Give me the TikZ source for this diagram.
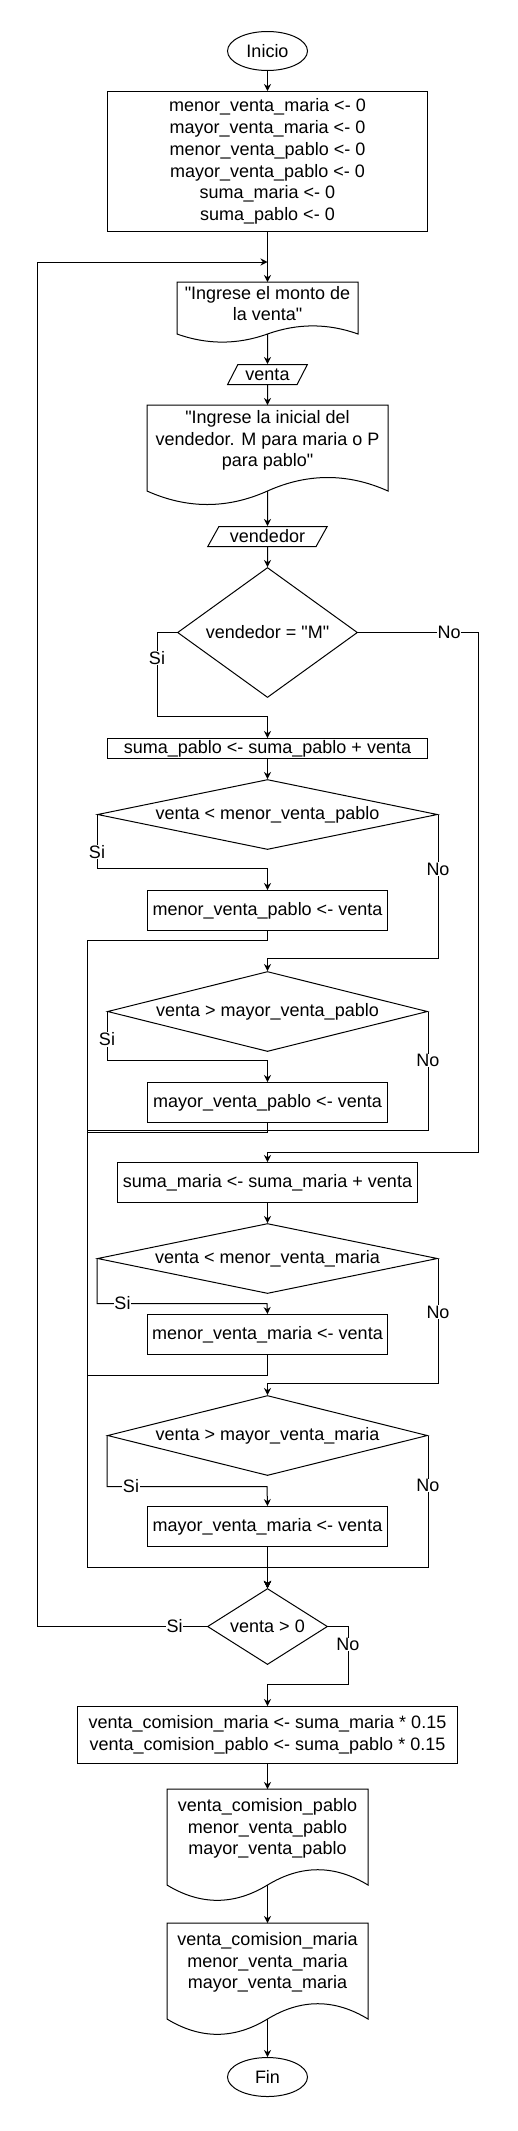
\documentclass[tikz,border=0pt]{standalone}
\usepackage{fontspec}
\setmainfont{Liberation Sans}
\usetikzlibrary{positioning, arrows.meta, shapes.geometric, calc}
\tikzstyle{startstop} = [ellipse, draw, minimum width=80pt, minimum height=39pt, inner sep=0pt]
\tikzstyle{process} = [rectangle, draw, minimum width=240pt, minimum height=40pt, inner sep=0pt, align=center]
\tikzstyle{io} = [trapezium, draw, trapezium left angle=57, trapezium right angle=123, trapezium stretches=true, minimum height=20pt, inner sep=0pt]
\tikzstyle{decision} = [diamond, draw, inner sep=0pt]
\tikzstyle{doc} = [rectangle, minimum width=200pt, inner sep=0pt, align=center]
\tikzstyle{arrow} = [->, >={Stealth[length=7pt, width=7pt]}]
\tikzstyle{lbl} = [fill=white, inner sep=0.5pt]
% outline of a document node with a wavy bottom (#2 = wave height)
\newcommand{\docwave}[2]{%
  \draw let \p1=(#1.south west), \p2=(#1.north east),
    \n1={(\x2-\x1)/6}, \n2={(\x1+\x2)/2}, \n3={\y1-#2/2}, \n4={0.6*#2} in
    (\x1,\y2) -- (\x2,\y2) -- (\x2,\n3*1pt)
    .. controls (\x2-\n1*1pt,\n3*1pt+\n4*1pt) and (\n2*1pt+\n1*1pt,\n3*1pt+\n4*1pt) .. (\n2*1pt,\n3*1pt)
    .. controls (\n2*1pt-\n1*1pt,\n3*1pt-\n4*1pt) and (\x1+\n1*1pt,\n3*1pt-\n4*1pt) .. (\x1,\n3*1pt) -- cycle
    (\n2*1pt,\n3*1pt) coordinate (#1-end);}
\newcommand{\qq}{\textquotedbl}
\begin{document}
\begin{tikzpicture}[line width=1pt, font=\fontsize{18pt}{21.7pt}\selectfont]
  \useasboundingbox (0,0) rectangle (517pt,-2131pt);

  % Start and initial values
  \node (inicio) [startstop] at (267.5pt,-51pt) {Inicio};
  \node (init) [process, minimum width=320pt, minimum height=140pt, below=20pt of inicio] {menor\_venta\_maria <- 0\\mayor\_venta\_maria <- 0\\menor\_venta\_pablo <- 0\\mayor\_venta\_pablo <- 0\\suma\_maria <- 0\\suma\_pablo <- 0};
  \coordinate [below=30pt of init] (loopjoin);

  % Input
  \node (msg1) [doc, minimum width=180pt, minimum height=42pt, below=50pt of init] {\qq Ingrese el monto de\\la venta\qq};
  \node (venta) [io, minimum width=80pt, below=39pt of msg1] {venta};
  \node (msg2) [doc, minimum width=240pt, minimum height=70pt, below=20pt of venta] {\qq Ingrese la inicial del\\vendedor. M para maria o P\\para pablo\qq};
  \node (vendedor) [io, minimum width=120pt, below=50pt of msg2] {vendedor};
  \node (esmaria) [decision, minimum width=180pt, minimum height=130pt, aspect=1.4, below=20pt of vendedor] {vendedor = \qq M\qq};

  % Pablo
  \node (sumapablo) [process, minimum width=320pt, minimum height=20pt, below=40pt of esmaria] {suma\_pablo <- suma\_pablo + venta};
  \node (menorpablo) [decision, minimum width=340pt, minimum height=70pt, aspect=4.8, below=20pt of sumapablo] {venta < menor\_venta\_pablo};
  \node (asigmenorpablo) [process, below=40pt of menorpablo] {menor\_venta\_pablo <- venta};
  \node (mayorpablo) [decision, minimum width=320pt, minimum height=80pt, aspect=4, below=40pt of asigmenorpablo] {venta > mayor\_venta\_pablo};
  \node (asigmayorpablo) [process, below=30pt of mayorpablo] {mayor\_venta\_pablo <- venta};

  % Maria
  \node (sumamaria) [process, minimum width=300pt, below=39pt of asigmayorpablo] {suma\_maria <- suma\_maria + venta};
  \node (menormaria) [decision, minimum width=340pt, minimum height=70pt, aspect=4.8, below=20pt of sumamaria] {venta < menor\_venta\_maria};
  \node (asigmenormaria) [process, below=20pt of menormaria] {menor\_venta\_maria <- venta};
  \node (mayormaria) [decision, minimum width=320pt, minimum height=80pt, aspect=4, below=40pt of asigmenormaria] {venta > mayor\_venta\_maria};
  \node (asigmayormaria) [process, below=30pt of mayormaria] {mayor\_venta\_maria <- venta};

  % Loop test and results
  \node (seguir) [decision, minimum width=120pt, minimum height=76pt, aspect=1.6, below=41pt of asigmayormaria] {venta > 0};
  \coordinate [above=21pt of seguir] (merge);
  \coordinate [left=180pt of merge] (bus);
  \node (comision) [process, minimum width=380pt, minimum height=57pt, below=41pt of seguir] {venta\_comision\_maria <- suma\_maria * 0.15\\venta\_comision\_pablo <- suma\_pablo * 0.15};
  \node (salpablo) [doc, minimum height=78pt, below=25pt of comision] {venta\_comision\_pablo\\menor\_venta\_pablo\\mayor\_venta\_pablo};
  \node (salmaria) [doc, minimum height=78pt, below=55pt of salpablo] {venta\_comision\_maria\\menor\_venta\_maria\\mayor\_venta\_maria};
  \node (fin) [startstop, below=55pt of salmaria] {Fin};

  \docwave{msg1}{18pt}
  \docwave{msg2}{30pt}
  \docwave{salpablo}{34pt}
  \docwave{salmaria}{34pt}

  % Arrows - main flow
  \draw[arrow] (inicio) -- (init);
  \draw[arrow] (init) -- (msg1);
  \draw[arrow] (msg1-end) -- (venta);
  \draw[arrow] (venta) -- (msg2);
  \draw[arrow] (msg2-end) -- (vendedor);
  \draw[arrow] (vendedor) -- (esmaria);
  \draw[arrow] (sumapablo) -- (menorpablo);
  \draw[arrow] (sumamaria) -- (menormaria);
  \draw[arrow] (comision) -- (salpablo);
  \draw[arrow] (salpablo-end) -- (salmaria);
  \draw[arrow] (salmaria-end) -- (fin);

  % Seller choice
  \draw[arrow] (esmaria.west) -- ++(-20pt,0) -- node[lbl, pos=0.3] {Si} ++(0,-84pt) -| (sumapablo.north);
  \draw[arrow] (esmaria.east) -- node[lbl, pos=0.76] {No} ++(120pt,0) |- ([yshift=10pt]sumamaria.north) -- (sumamaria.north);

  % Pablo branches
  \draw[arrow] (menorpablo.west) -- node[lbl, pos=0.69] {Si} ++(0,-54pt) -| (asigmenorpablo.north);
  \draw[arrow] (menorpablo.east) -- node[lbl, pos=0.38] {No} ++(0,-144pt) -| (mayorpablo.north);
  \draw[arrow] (asigmenorpablo.south) -- ++(0,-9pt) -| (bus) -- (merge) -- (seguir.north);
  \draw[arrow] (mayorpablo.west) -- node[lbl, pos=0.57] {Si} ++(0,-49pt) -| (asigmayorpablo.north);
  \draw[arrow] (mayorpablo.east) -- node[lbl, pos=0.41] {No} ++(0,-119pt) -| (bus) -- (merge) -- (seguir.north);
  \draw[arrow] (asigmayorpablo.south) -- ++(0,-9pt) -| (bus) -- (merge) -- (seguir.north);

  % Maria branches
  \draw[arrow] (menormaria.west) -- ++(0,-45pt) -- node[lbl, pos=0.15] {Si} ++(170pt,0) -- (asigmenormaria.north);
  \draw[arrow] (menormaria.east) -- node[lbl, pos=0.43] {No} ++(0,-125pt) -| (mayormaria.north);
  \draw[arrow] (asigmenormaria.south) -- ++(0,-20pt) -| (bus) -- (merge) -- (seguir.north);
  \draw[arrow] (mayormaria.west) -- ++(0,-51pt) -- node[lbl, pos=0.15] {Si} ++(160pt,0) -- (asigmayormaria.north);
  \draw[arrow] (mayormaria.east) |- node[lbl, pos=0.19] {No} (merge) -- (seguir.north);
  \draw[arrow] (asigmayormaria) -- (seguir);

  % Loop back and exit
  \draw[arrow] (seguir.west) -- node[lbl, pos=0.19] {Si} ++(-170pt,0) |- (loopjoin);
  \draw[arrow] (seguir.east) -- ++(20pt,0) -- node[lbl, pos=0.31] {No} ++(0,-58pt) -| (comision.north);

\end{tikzpicture}
\end{document}
